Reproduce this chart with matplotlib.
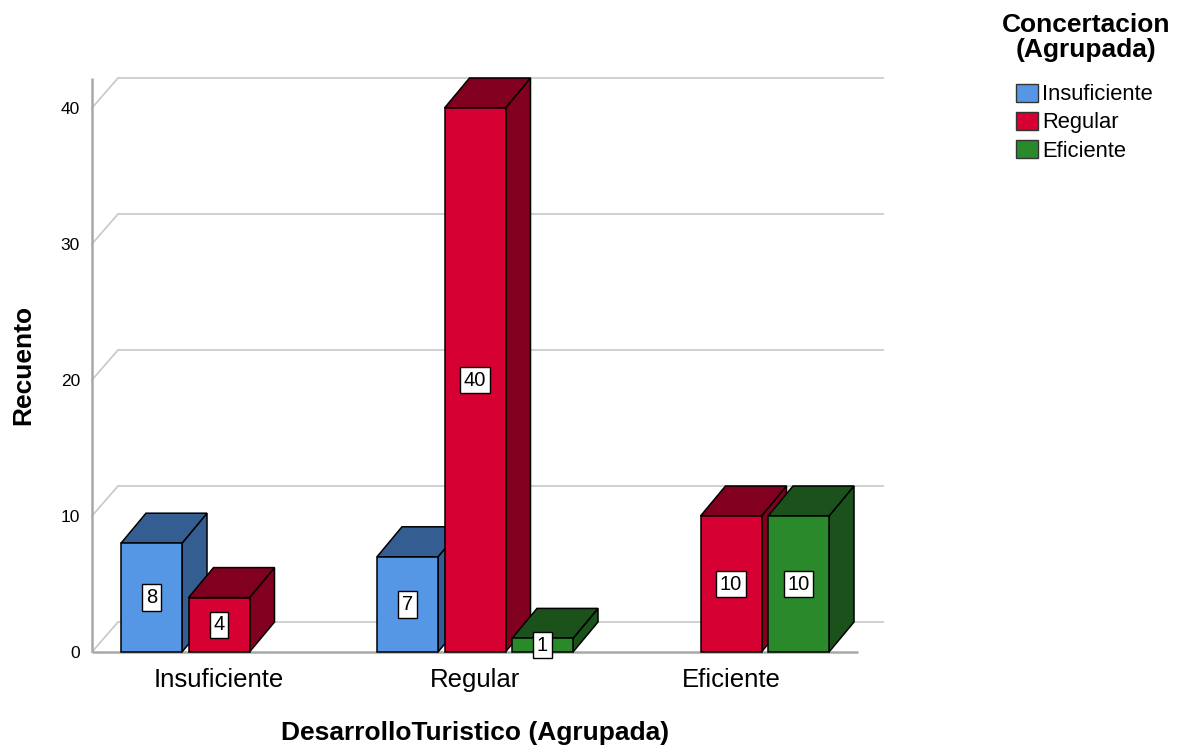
import matplotlib
matplotlib.use("Agg")
import matplotlib.pyplot as plt
from matplotlib.patches import Polygon, Rectangle, Patch

# ---------------- data ----------------
categories = ["Insuficiente", "Regular", "Eficiente"]
series_names = ["Insuficiente", "Regular", "Eficiente"]
counts_insuficiente = [8, 7, 0]
counts_regular = [4, 40, 10]
counts_eficiente = [0, 1, 10]
yticks = [0, 10, 20, 30, 40]

series_values = [counts_insuficiente, counts_regular, counts_eficiente]
front_colors = ["#5596E5", "#D60032", "#2A892B"]
dark_colors = ["#345E91", "#81001F", "#1B511B"]

FONT = "Liberation Sans"
plt.rcParams["font.family"] = [FONT, "DejaVu Sans"]

# ---------------- layout ----------------
W, H = 1184, 749
fig = plt.figure(figsize=(W / 100, H / 100), dpi=100)
L, R, B, T = 92, 884, 652, 70          # axes box in pixels
px_per_y = 13.6
px_per_x = 256.0
ax = fig.add_axes([L / W, (H - B) / H, (R - L) / W, (B - T) / H])
x_left = -(219 - L) / px_per_x
x_right = x_left + (R - L) / px_per_x
ax.set_xlim(x_left, x_right)
ax.set_ylim(0, (B - T) / px_per_y)
for s in ax.spines.values():
    s.set_visible(False)

DX = 25 / px_per_x
DY = 30 / px_per_y
GDX = 26 / px_per_x
bar_w = 61 / px_per_x
step = 67.5 / px_per_x

# grid (back wall + left wall diagonals)
grid_c = "#C8C8C8"
for v in yticks:
    ax.plot([x_left + GDX, x_right], [v + DY, v + DY], color=grid_c, lw=1.2,
            clip_on=False, zorder=1, solid_capstyle="butt")
    ax.plot([x_left, x_left + GDX], [v, v + DY], color=grid_c, lw=1.2,
            clip_on=False, zorder=1)
axis_c = "#A8A8A8"
ax.plot([x_left, x_left], [0, yticks[-1] + DY], color=axis_c, lw=1.8,
        clip_on=False, zorder=2, solid_capstyle="butt")
ax.plot([x_left, x_right - GDX], [0, 0], color=axis_c, lw=1.8,
        clip_on=False, zorder=2, solid_capstyle="butt")

# bars
z = 3
for ci in range(len(categories)):
    for si in range(len(series_names)):
        v = series_values[si][ci]
        if v == 0:
            continue
        xc = ci + (si - 1) * step
        x0, x1 = xc - bar_w / 2, xc + bar_w / 2
        ec = "black"
        side = Polygon([(x1, 0), (x1 + DX, DY), (x1 + DX, v + DY), (x1, v)],
                       closed=True, fc=dark_colors[si], ec=ec, lw=1.1, zorder=z)
        top = Polygon([(x0, v), (x1, v), (x1 + DX, v + DY), (x0 + DX, v + DY)],
                      closed=True, fc=dark_colors[si], ec=ec, lw=1.1, zorder=z)
        front = Rectangle((x0, 0), bar_w, v, fc=front_colors[si], ec=ec,
                          lw=1.1, zorder=z + 0.5)
        for p in (side, top, front):
            p.set_clip_on(False)
            ax.add_patch(p)
        ax.text(xc, v / 2, str(v), ha="center", va="center", fontsize=14.5,
                zorder=50,
                bbox=dict(boxstyle="square,pad=0.18", fc="white", ec="black",
                          lw=1.0))
        z += 1

# ticks
ax.set_yticks(yticks)
ax.set_yticklabels([str(t) for t in yticks], fontsize=12.5)
ax.set_xticks(range(len(categories)))
ax.set_xticklabels(categories, fontsize=18.5)
ax.tick_params(axis="y", length=0, pad=8.6)
ax.tick_params(axis="x", length=0, pad=11.5)

# axis titles
fig.text(475 / W, 1 - 740 / H, "DesarrolloTuristico (Agrupada)",
         ha="center", va="baseline", fontsize=19, fontweight="bold")
fig.text(23 / W, 1 - 365 / H, "Recuento", rotation=90, ha="center",
         va="center", fontsize=19, fontweight="bold")

# legend title
fig.text(1086 / W, 1 - 32 / H, "Concertacion", ha="center", va="baseline",
         fontsize=19, fontweight="bold")
fig.text(1086 / W, 1 - 57 / H, "(Agrupada)", ha="center", va="baseline",
         fontsize=19, fontweight="bold")

# legend
handles = [Patch(facecolor=front_colors[i], edgecolor="#333333", lw=1.0)
           for i in range(len(series_names))]
leg = fig.legend(handles, series_names, loc="upper left",
                 bbox_to_anchor=(1016 / W, 1 - 84 / H), frameon=False,
                 prop={"size": 15.8}, handlelength=1.0, handleheight=0.85,
                 handletextpad=0.2, labelspacing=0.31, borderpad=0.0,
                 borderaxespad=0.0)

fig.savefig("out.png", dpi=100)
